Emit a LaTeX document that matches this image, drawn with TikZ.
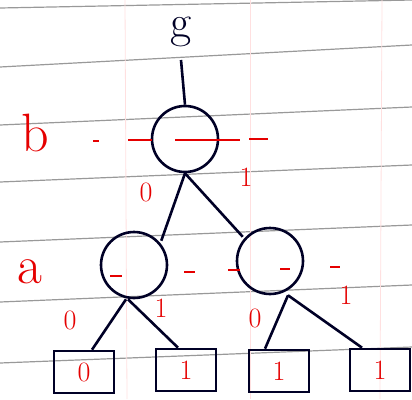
\documentclass[tikz,border=0pt]{standalone}
\begin{document}
\begin{tikzpicture}[x=1pt,y=-1pt,
  ink/.style={line width=2.6pt,draw=black!85!blue},
  inner/.style={circle,ink,minimum size=66pt,inner sep=0pt},
  leaf/.style={rectangle,ink,minimum width=60pt,minimum height=42pt,inner sep=0pt,text=red!90!black,font=\fontsize{28}{28}\selectfont},
  redtxt/.style={text=red!90!black,inner sep=0pt},
  lbl/.style={redtxt,font=\fontsize{28}{28}\selectfont},
  varlbl/.style={redtxt,font=\fontsize{54}{54}\selectfont},
  rdash/.style={line width=2.6pt,draw=red!90!black},
  paper/.style={line width=1.2pt,draw=black!40},
  vpaper/.style={line width=0.8pt,draw=red!12}]
\useasboundingbox (0,0) rectangle (412,399);
% ruled paper
\draw[paper] (0,8) -- (412,0);
\draw[paper] (0,67) -- (412,45);
\draw[paper] (0,125) -- (412,107);
\draw[paper] (0,182) -- (412,165);
\draw[paper] (0,242) -- (412,225);
\draw[paper] (0,302) -- (412,285);
\draw[paper] (0,363) -- (412,347);
\draw[vpaper] (125,0) -- (127,399);
\draw[vpaper] (250,0) -- (250,399);
\draw[vpaper] (382,0) -- (380,399);
% nodes
\node[inner sep=2pt,font=\fontsize{46}{46}\selectfont,text=black!85!blue] (g) at (181,32) {g};
\coordinate (gend) at (181,60);
\node[inner] (root) at (185,139) {};
\node[inner] (na1) at (134,265) {};
\node[inner] (na2) at (270,261) {};
\node[leaf] (l1) at (84,372) {0};
\node[leaf] (l2) at (186,370) {1};
\node[leaf] (l3) at (279,371) {1};
\node[leaf] (l4) at (380,370) {1};
% connectors
\draw[ink] (gend) -- (root.north);
\draw[ink] (root.south) -- ([xshift=3pt]na1.north east);
\draw[ink] (root.south) -- ([xshift=-3pt]na2.north west);
\draw[ink] ([xshift=-8pt]na1.south) -- ([xshift=8pt]l1.north);
\draw[ink] ([xshift=-6pt]na1.south) -- ([xshift=-8pt]l2.north);
\draw[ink] ([xshift=18pt]na2.south) -- ([xshift=-14pt]l3.north);
\draw[ink] ([xshift=18pt]na2.south) -- ([xshift=-18pt]l4.north);
% variable labels
\node[varlbl] (vb) at (35,133) {b};
\node[varlbl] (va) at (30,272) {a};
% red dashed level lines
\draw[rdash] (93,141) -- (99,141);
\draw[rdash] (128,140) -- (152,140);
\draw[rdash] (175,140) -- (240,140);
\draw[rdash] (249,139) -- (268,139);
\draw[rdash] (110,276) -- (122,276);
\draw[rdash] (184,272) -- (195,272);
\draw[rdash] (228,270) -- (240,270);
\draw[rdash] (280,269) -- (290,269);
\draw[rdash] (330,267) -- (340,267);
% edge labels
\node[lbl] (e0) at (146,192) {0};
\node[lbl] (e1) at (246,177) {1};
\node[lbl] (e2) at (70,320) {0};
\node[lbl] (e3) at (161,308) {1};
\node[lbl] (e4) at (255,318) {0};
\node[lbl] (e5) at (346,295) {1};
\end{tikzpicture}
\end{document}
